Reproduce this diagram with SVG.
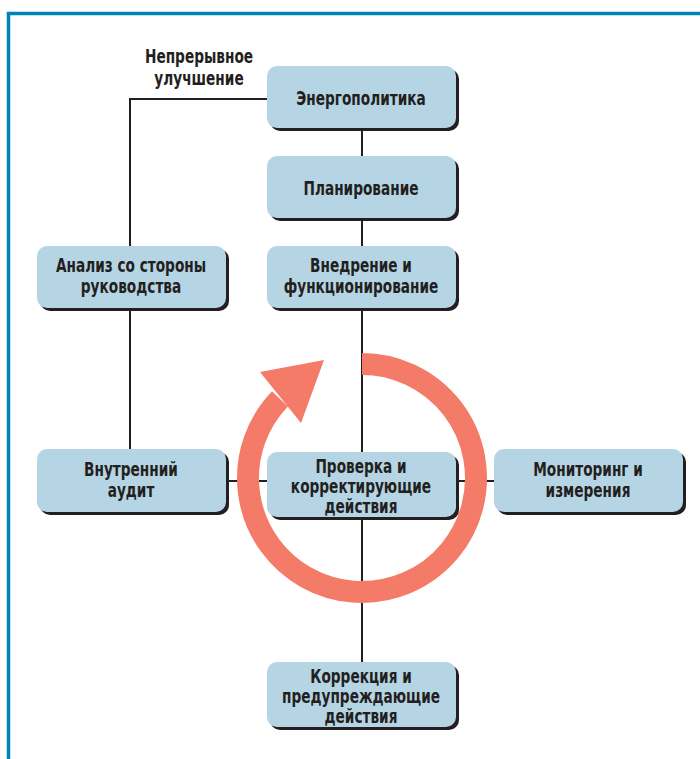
<svg xmlns="http://www.w3.org/2000/svg" width="700" height="759" viewBox="0 0 700 759">
<defs>
<style>
.frame{fill:none;stroke:#0084b6;stroke-width:3.5}
.line{fill:none;stroke:#231f20;stroke-width:2}
.shadow{fill:#231f20}
.box{fill:#b5d5e4}
.t{font-family:"DejaVu Sans Condensed","DejaVu Sans","Liberation Sans",sans-serif;font-stretch:condensed;font-weight:bold;font-size:19.5px;fill:#231f20;text-anchor:middle}
.ring{fill:none;stroke:#f37b67;stroke-width:22}
.head{fill:#f37b67}
</style>
</defs>
<rect width="700" height="759" fill="#fff"/>
<path class="frame" d="M8.5,759 V13.5 H700"/>
<g id="connectors">
<path class="line" d="M362,100 V700"/>
<path class="line" d="M267,99 H130 V480"/>
<path class="line" d="M130,481 H590"/>
</g>
<g id="cycle">
<path class="ring" d="M362,364 A114,114 0 1 1 280,398.8"/>
<polygon class="head" points="260,372 324,360 301,423"/>
</g>
<g id="label">
<text class="t" transform="matrix(0.78 0 0 1 199 63)">Непрерывное</text>
<text class="t" transform="matrix(0.78 0 0 1 199 85)">улучшение</text>
</g>
<g id="n1"><rect class="shadow" x="270" y="69" width="189" height="62" rx="10"/><rect class="box" x="267" y="66" width="189" height="62" rx="10"/><text class="t" transform="matrix(0.78 0 0 1 361 105)">Энергополитика</text></g>
<g id="n2"><rect class="shadow" x="270" y="159" width="189" height="62" rx="10"/><rect class="box" x="267" y="156" width="189" height="62" rx="10"/><text class="t" transform="matrix(0.78 0 0 1 361 195)">Планирование</text></g>
<g id="n3"><rect class="shadow" x="270" y="249" width="189" height="62" rx="10"/><rect class="box" x="267" y="246" width="189" height="62" rx="10"/><text class="t" transform="matrix(0.78 0 0 1 361 272)">Внедрение и</text><text class="t" transform="matrix(0.78 0 0 1 361 293)">функционирование</text></g>
<g id="n4"><rect class="shadow" x="40" y="249" width="189" height="62" rx="10"/><rect class="box" x="37" y="246" width="189" height="62" rx="10"/><text class="t" transform="matrix(0.78 0 0 1 131 272)">Анализ со стороны</text><text class="t" transform="matrix(0.78 0 0 1 131 293)">руководства</text></g>
<g id="n5"><rect class="shadow" x="40" y="452" width="189" height="63" rx="10"/><rect class="box" x="37" y="449" width="189" height="63" rx="10"/><text class="t" transform="matrix(0.78 0 0 1 131 476)">Внутренний</text><text class="t" transform="matrix(0.78 0 0 1 131 497)">аудит</text></g>
<g id="n6"><rect class="shadow" x="270" y="455" width="189" height="65" rx="10"/><rect class="box" x="267" y="452" width="189" height="65" rx="10"/><text class="t" transform="matrix(0.78 0 0 1 361 473)">Проверка и</text><text class="t" transform="matrix(0.78 0 0 1 361 493)">корректирующие</text><text class="t" transform="matrix(0.78 0 0 1 361 513)">действия</text></g>
<g id="n7"><rect class="shadow" x="497" y="452" width="189" height="63" rx="10"/><rect class="box" x="494" y="449" width="189" height="63" rx="10"/><text class="t" transform="matrix(0.78 0 0 1 588 476)">Мониторинг и</text><text class="t" transform="matrix(0.78 0 0 1 588 497)">измерения</text></g>
<g id="n8"><rect class="shadow" x="270" y="665" width="189" height="65" rx="10"/><rect class="box" x="267" y="662" width="189" height="65" rx="10"/><text class="t" transform="matrix(0.78 0 0 1 361 683)">Коррекция и</text><text class="t" transform="matrix(0.78 0 0 1 361 703)">предупреждающие</text><text class="t" transform="matrix(0.78 0 0 1 361 723)">действия</text></g>
</svg>
